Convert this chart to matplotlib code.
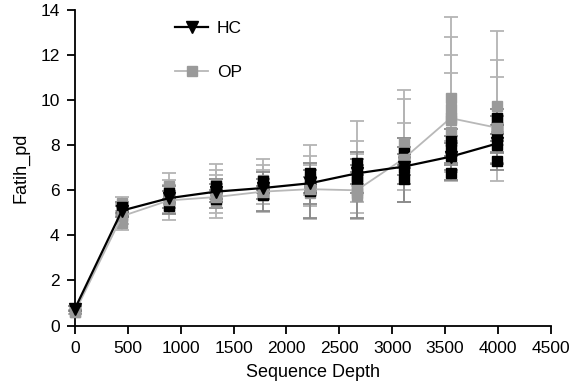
import matplotlib.pyplot as plt

plt.rcParams['font.family'] = ['Liberation Sans', 'DejaVu Sans']

depths = [0, 444, 888, 1332, 1776, 2220, 2664, 3108, 3552, 3996]

# group means (lines)
hc_mean = [0.75, 5.1, 5.65, 5.94, 6.1, 6.31, 6.75, 7.05, 7.49, 8.08]
op_mean = [0.6, 4.85, 5.55, 5.7, 5.94, 6.05, 6.0, 7.4, 9.2, 8.77]

# per-sample values at each depth, with lower / upper error bounds
hc_vals = [[0.75], [5.25, 5.05], [5.9, 5.6, 5.3], [6.2, 5.95, 5.6], [6.4, 6.1, 5.8],
           [6.75, 6.4, 6.1, 5.95], [7.2, 6.9, 6.6, 6.4], [7.65, 7.3, 7.0, 6.5],
           [8.2, 7.85, 7.5, 6.75], [9.2, 8.8, 8.4, 8.0, 7.3]]
hc_lo = [[0.65], [5.0, 4.8], [5.6, 5.2, 4.95], [5.9, 5.5, 5.2], [6.0, 5.6, 5.1],
         [6.3, 5.9, 5.4, 4.75], [6.7, 6.3, 5.9, 4.75], [7.1, 6.7, 6.3, 5.5],
         [7.5, 7.2, 6.9, 6.45], [8.5, 8.2, 7.65, 7.16, 6.9]]
hc_hi = [[0.85], [5.5, 5.3], [6.2, 5.95, 5.6], [6.5, 6.3, 6.0], [6.8, 6.5, 6.2],
         [7.2, 6.9, 6.6, 6.3], [7.7, 7.4, 7.1, 6.8], [8.3, 7.9, 7.6, 7.0],
         [8.7, 8.4, 8.1, 7.1], [9.6, 9.3, 8.9, 8.5, 7.7]]

op_vals = [[0.6], [5.45, 4.9, 4.55], [6.2, 5.7, 5.3], [6.3, 5.8, 5.5], [6.45, 6.05, 5.8],
           [6.5, 6.2, 5.9], [6.1, 5.9, 5.75], [8.1, 7.7, 7.3],
           [10.1, 9.6, 9.1, 8.6], [9.73, 9.2, 8.7]]
op_lo = [[0.5], [5.1, 4.5, 4.25], [5.6, 5.0, 4.7], [5.6, 5.0, 4.78], [5.9, 5.4, 5.05],
         [5.8, 5.3, 4.72], [5.5, 5.0, 4.72], [7.0, 6.0, 5.48],
         [8.2, 7.5, 6.8, 6.4], [8.0, 7.2, 6.4]]
op_hi = [[0.7], [5.7, 5.4, 4.9], [6.75, 6.45, 6.23], [7.15, 6.9, 6.7], [7.38, 7.12, 6.9],
         [8.0, 7.5, 7.1], [9.08, 8.2, 7.6], [10.44, 10.05, 9.0],
         [13.7, 12.8, 12.0, 11.2], [13.07, 11.8, 11.03]]

x_ticks = [0, 500, 1000, 1500, 2000, 2500, 3000, 3500, 4000, 4500]
y_ticks = [0, 2, 4, 6, 8, 10, 12, 14]


def draw_group(ax, vals, lo, hi, ecolor, mcolor):
    for d, v, l, h in zip(depths, vals, lo, hi):
        for vi, li, hi_ in zip(v, l, h):
            ax.errorbar(d, vi, yerr=[[vi - li], [hi_ - vi]], fmt='s', color=mcolor,
                        ecolor=ecolor, elinewidth=1.3, capsize=5, capthick=1.3,
                        markersize=7, clip_on=False, zorder=2)


fig, ax = plt.subplots(figsize=(5.81, 3.83), dpi=100)
fig.subplots_adjust(left=0.129, right=0.948, bottom=0.15, top=0.974)

draw_group(ax, op_vals, op_lo, op_hi, '#b4b4b4', '#9a9a9a')
ax.plot(depths, op_mean, color='#b8b8b8', lw=1.3, marker='s', markersize=7,
        markerfacecolor='#9a9a9a', markeredgecolor='#9a9a9a', label='OP',
        clip_on=False, zorder=3)

draw_group(ax, hc_vals, hc_lo, hc_hi, '#8a8a8a', 'black')
ax.plot(depths, hc_mean, color='black', lw=1.6, marker='v', markersize=9,
        label='HC', clip_on=False, zorder=4)

ax.set_xlim(0, 4500)
ax.set_ylim(0, 14)
ax.set_xticks(x_ticks)
ax.set_yticks(y_ticks)
ax.tick_params(labelsize=12.5, width=1.3, length=6, pad=5, direction='out')
for s in ['top', 'right']:
    ax.spines[s].set_visible(False)
for s in ['left', 'bottom']:
    ax.spines[s].set_linewidth(1.3)

ax.set_xlabel('Sequence Depth', fontsize=13, labelpad=6)
ax.set_ylabel('Fatih_pd', fontsize=13, labelpad=8)

h, l = ax.get_legend_handles_labels()
ax.legend(h[::-1], l[::-1], loc='upper left', bbox_to_anchor=(0.178, 1.015), frameon=False,
          fontsize=12.5, labelspacing=1.65, handlelength=1.9, handletextpad=0.5)

plt.savefig('out.png', dpi=100)
